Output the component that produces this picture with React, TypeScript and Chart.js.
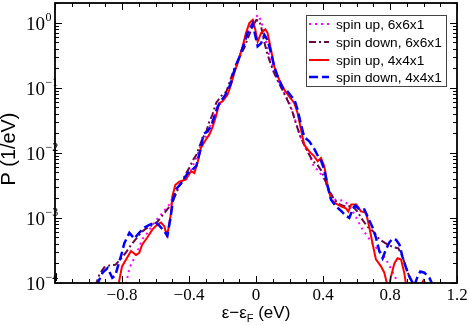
import React, { useEffect, useRef } from 'react';
import { Chart, registerables } from 'chart.js';

Chart.register(...registerables);

// ---- data (energy relative to Fermi level, eV ; probability 1/eV) ----
const xUp6 = [-0.79, -0.774, -0.756, -0.709, -0.679, -0.649, -0.607, -0.577, -0.547, -0.518, -0.488, -0.458, -0.422, -0.386, -0.356, -0.333, -0.303, -0.279, -0.249, -0.225, -0.201, -0.177, -0.153, -0.13, -0.106, -0.082, -0.058, -0.034, -0.010, 0.014, 0.032, 0.050, 0.067, 0.085, 0.109, 0.139, 0.169, 0.199, 0.229, 0.258, 0.288, 0.318, 0.348, 0.366, 0.39, 0.408, 0.438, 0.473, 0.515, 0.545, 0.575, 0.605, 0.629, 0.659, 0.688, 0.718, 0.748, 0.772, 0.796, 0.82, 0.844, 0.86];
const pUp6 = [8e-5, 1.0e-4, 1.7e-4, 3.0e-4, 4.7e-4, 5.9e-4, 8.5e-4, 1.05e-3, 1.3e-3, 1.6e-3, 2.3e-3, 3.1e-3, 4.2e-3, 5.5e-3, 8.5e-3, 0.012, 0.017, 0.024, 0.036, 0.051, 0.065, 0.083, 0.123, 0.175, 0.27, 0.41, 0.63, 0.89, 1.18, 1.31, 1.02, 0.69, 0.41, 0.27, 0.175, 0.115, 0.083, 0.059, 0.035, 0.020, 0.0128, 9.3e-3, 5.9e-3, 5.5e-3, 4.6e-3, 3.9e-3, 2.5e-3, 1.9e-3, 1.85e-3, 1.66e-3, 1.3e-3, 9.4e-4, 7.1e-4, 5.5e-4, 4.3e-4, 3.5e-4, 2.9e-4, 2.4e-4, 1.85e-4, 1.4e-4, 1.05e-4, 8e-5];

const xDown6 = [-0.959, -0.935, -0.906, -0.876, -0.840, -0.81, -0.774, -0.744, -0.715, -0.685, -0.655, -0.625, -0.589, -0.56, -0.53, -0.506, -0.482, -0.458, -0.428, -0.398, -0.374, -0.356, -0.338, -0.32, -0.297, -0.279, -0.261, -0.237, -0.207, -0.177, -0.153, -0.124, -0.094, -0.07, -0.046, -0.022, 0.002, 0.02, 0.032, 0.044, 0.061, 0.079, 0.103, 0.133, 0.163, 0.193, 0.217, 0.241, 0.264, 0.288, 0.318, 0.342, 0.366, 0.39, 0.414, 0.438, 0.467, 0.503, 0.539, 0.575, 0.605, 0.635, 0.664, 0.70, 0.736, 0.772, 0.814, 0.85, 0.873, 0.897, 0.915, 0.94];
const pDown6 = [9e-5, 1.35e-4, 1.74e-4, 1.86e-4, 1.9e-4, 2.3e-4, 3.0e-4, 3.9e-4, 4.8e-4, 6.0e-4, 6.9e-4, 7.6e-4, 8.7e-4, 1.08e-3, 1.35e-3, 1.6e-3, 2.2e-3, 3.1e-3, 4.3e-3, 5.9e-3, 7.9e-3, 9.3e-3, 0.0124, 0.0165, 0.021, 0.030, 0.038, 0.059, 0.075, 0.087, 0.132, 0.216, 0.31, 0.41, 0.60, 0.86, 1.1, 1.06, 0.83, 0.58, 0.38, 0.27, 0.18, 0.123, 0.087, 0.06, 0.043, 0.027, 0.018, 0.0133, 9.3e-3, 7.3e-3, 6.6e-3, 5.3e-3, 3.7e-3, 2.6e-3, 1.9e-3, 1.6e-3, 1.48e-3, 1.54e-3, 1.25e-3, 9.4e-4, 7.4e-4, 6.2e-4, 4.7e-4, 4.1e-4, 3.6e-4, 3.4e-4, 2.6e-4, 1.7e-4, 1.26e-4, 9e-5];

const xUp4 = [-0.83, -0.819, -0.80, -0.767, -0.746, -0.716, -0.697, -0.679, -0.649, -0.619, -0.589, -0.567, -0.547, -0.534, -0.524, -0.507, -0.50, -0.482, -0.458, -0.418, -0.388, -0.368, -0.349, -0.328, -0.299, -0.279, -0.259, -0.239, -0.219, -0.199, -0.170, -0.149, -0.130, -0.110, -0.080, -0.060, -0.040, -0.020, -0.005, 0.010, 0.030, 0.056, 0.069, 0.090, 0.109, 0.139, 0.169, 0.199, 0.229, 0.248, 0.269, 0.288, 0.318, 0.348, 0.368, 0.388, 0.408, 0.427, 0.448, 0.478, 0.507, 0.537, 0.551, 0.569, 0.599, 0.627, 0.657, 0.676, 0.696, 0.716, 0.746, 0.766, 0.79, 0.806, 0.826, 0.845, 0.866, 0.885, 0.90, 0.97, 1.0, 1.03];
const pUp4 = [8e-5, 1.0e-4, 1.8e-4, 2.5e-4, 3.1e-4, 2.7e-4, 2.9e-4, 3.9e-4, 5e-4, 6.6e-4, 7.9e-4, 8.5e-4, 7.4e-4, 5.5e-4, 6.6e-4, 1.2e-3, 2.1e-3, 3.2e-3, 3.6e-3, 3.9e-3, 5.2e-3, 4.9e-3, 7.1e-3, 1.2e-2, 1.6e-2, 1.9e-2, 2.5e-2, 3.6e-2, 5.8e-2, 6.2e-2, 7.8e-2, 0.111, 0.168, 0.238, 0.43, 0.69, 0.98, 1.1, 0.8, 0.51, 0.69, 0.79, 0.69, 0.38, 0.21, 0.132, 0.093, 0.073, 0.058, 0.041, 0.0225, 0.0133, 0.0105, 8.8e-3, 7.4e-3, 8.3e-3, 6.2e-3, 3.2e-3, 1.9e-3, 1.66e-3, 1.5e-3, 1.4e-3, 1.25e-3, 1.6e-3, 1.6e-3, 1.26e-3, 1.2e-3, 7.3e-4, 4.0e-4, 2.3e-4, 1.8e-4, 1.44e-4, 8e-5, 1.26e-4, 2.0e-4, 2.4e-4, 2.3e-4, 1.44e-4, 8e-5, 8e-5, 1.1e-4, 8e-5];

const xDown4 = [-0.953, -0.916, -0.886, -0.858, -0.840, -0.822, -0.804, -0.786, -0.756, -0.726, -0.703, -0.667, -0.637, -0.601, -0.577, -0.547, -0.529, -0.511, -0.494, -0.476, -0.446, -0.410, -0.380, -0.356, -0.344, -0.326, -0.314, -0.291, -0.267, -0.249, -0.229, -0.213, -0.189, -0.170, -0.149, -0.136, -0.118, -0.100, -0.070, -0.050, -0.030, -0.020, 0.010, 0.030, 0.050, 0.069, 0.090, 0.109, 0.129, 0.159, 0.189, 0.219, 0.229, 0.248, 0.269, 0.288, 0.318, 0.348, 0.368, 0.388, 0.408, 0.427, 0.448, 0.478, 0.507, 0.537, 0.557, 0.577, 0.593, 0.617, 0.647, 0.671, 0.696, 0.716, 0.736, 0.756, 0.776, 0.796, 0.816, 0.836, 0.856, 0.875, 0.896, 0.915, 0.945, 0.965, 0.981, 1.005, 1.035, 1.058];
const pDown4 = [9e-5, 1.44e-4, 1.7e-4, 1.2e-4, 1.3e-4, 1.9e-4, 2.7e-4, 4.1e-4, 5.9e-4, 4.8e-4, 5.7e-4, 7.1e-4, 7.8e-4, 8.6e-4, 7.6e-4, 6.2e-4, 5.3e-4, 9.8e-4, 2.0e-3, 2.8e-3, 3.4e-3, 4.8e-3, 5.5e-3, 6.3e-3, 8.4e-3, 0.0129, 0.0196, 0.021, 0.026, 0.036, 0.051, 0.061, 0.073, 0.089, 0.119, 0.163, 0.224, 0.29, 0.48, 0.69, 0.87, 0.97, 0.43, 0.48, 0.65, 0.54, 0.34, 0.21, 0.148, 0.099, 0.087, 0.069, 0.066, 0.046, 0.027, 0.0174, 0.015, 0.0115, 9.1e-3, 7.6e-3, 5.5e-3, 3.1e-3, 1.9e-3, 1.5e-3, 1.29e-3, 1.08e-3, 1.0e-3, 1.35e-3, 1.55e-3, 1.35e-3, 1.35e-3, 9.8e-4, 7.1e-4, 5.0e-4, 3.1e-4, 2.4e-4, 3.3e-4, 4.2e-4, 4.8e-4, 4.6e-4, 3.9e-4, 2.5e-4, 1.7e-4, 1.27e-4, 9e-5, 1.27e-4, 1.5e-4, 1.44e-4, 1.2e-4, 9e-5];

const seriesLabels = ['spin up, 6x6x1', 'spin down, 6x6x1', 'spin up, 4x4x1', 'spin down, 4x4x1'];
const xTickValues = [-0.8, -0.4, 0, 0.4, 0.8, 1.2];
const xTickLabels = ['\u22120.8', '\u22120.4', '0', '0.4', '0.8', '1.2'];
const yDecadeExponents = [0, -1, -2, -3, -4];
const X_MIN = -1.2, X_MAX = 1.2, Y_MIN = 1e-4, Y_MAX = 2;

const toPts = (xs: number[], ps: number[]) => xs.map((x, i) => ({ x, y: ps[i] }));

const framePlugin = {
  id: 'gracelike',
  afterDraw(chart: any) {
    const ctx = chart.ctx as CanvasRenderingContext2D;
    const a = chart.chartArea;
    const xs = chart.scales.x;
    const ys = chart.scales.y;
    ctx.save();
    ctx.setLineDash([]);
    ctx.strokeStyle = '#000';
    ctx.lineWidth = 1.8;
    ctx.strokeRect(a.left, a.top, a.right - a.left, a.bottom - a.top);
    ctx.lineWidth = 1;
    // x ticks (inward, both sides)
    for (let i = -12; i <= 12; i++) {
      const px = Math.round(xs.getPixelForValue(i / 10)) + 0.5;
      const len = i % 4 === 0 ? 7 : 4;
      ctx.beginPath();
      ctx.moveTo(px, a.bottom); ctx.lineTo(px, a.bottom - len);
      ctx.moveTo(px, a.top); ctx.lineTo(px, a.top + len);
      ctx.stroke();
    }
    // y ticks
    for (let e = -4; e <= 0; e++) {
      for (let k = 1; k <= 9; k++) {
        const v = k * Math.pow(10, e);
        if (v > Y_MAX) continue;
        const py = Math.round(ys.getPixelForValue(v)) + 0.5;
        const len = k === 1 ? 7 : 4;
        ctx.beginPath();
        ctx.moveTo(a.left, py); ctx.lineTo(a.left + len, py);
        ctx.moveTo(a.right, py); ctx.lineTo(a.right - len, py);
        ctx.stroke();
      }
    }
    // x tick labels
    ctx.fillStyle = '#000';
    ctx.font = '17px "Liberation Serif"';
    ctx.textAlign = 'center';
    ctx.textBaseline = 'alphabetic';
    xTickValues.forEach((v, i) => {
      ctx.fillText(xTickLabels[i], xs.getPixelForValue(v), a.bottom + 17);
    });
    // y tick labels 10^n
    yDecadeExponents.forEach((e) => {
      const py = ys.getPixelForValue(Math.pow(10, e));
      ctx.font = '19px "Liberation Serif"';
      ctx.textAlign = 'right';
      ctx.fillText('10', 45, py + 7);
      ctx.font = '12px "Liberation Serif"';
      ctx.textAlign = 'left';
      ctx.fillText(e === 0 ? '0' : '\u2212' + Math.abs(e), 45.5, py - 2);
    });
    // axis titles
    ctx.font = '18px "Liberation Sans"';
    const tw = ctx.measureText('P (1/eV)').width;
    const tSize = Math.max(15, Math.min(21, 18 * 73 / tw));
    ctx.font = tSize.toFixed(1) + 'px "Liberation Sans"';
    ctx.save();
    ctx.translate(15, (a.top + a.bottom) / 2 + 6);
    ctx.rotate(-Math.PI / 2);
    ctx.textAlign = 'center';
    ctx.fillText('P (1/eV)', 0, 0);
    ctx.restore();
    const p1 = '\u03b5\u2212\u03b5', p2 = 'F', p3 = ' (eV)';
    ctx.font = '17px "Liberation Sans"';
    const w1 = ctx.measureText(p1).width, w3 = ctx.measureText(p3).width;
    ctx.font = '11px "Liberation Sans"';
    const w2 = ctx.measureText(p2).width;
    let sx = (a.left + a.right) / 2 - (w1 + w2 + w3) / 2;
    const by = 318;
    ctx.textAlign = 'left';
    ctx.font = '17px "Liberation Sans"';
    ctx.fillText(p1, sx, by); sx += w1;
    ctx.font = '11px "Liberation Sans"';
    ctx.fillText(p2, sx, by + 4); sx += w2;
    ctx.font = '17px "Liberation Sans"';
    ctx.fillText(p3, sx, by);
    // legend
    const lx = 306.5, ly = 15.5, lw = 140, lh = 71;
    ctx.fillStyle = '#fff';
    ctx.fillRect(lx, ly, lw, lh);
    ctx.strokeStyle = '#444';
    ctx.lineWidth = 1;
    ctx.strokeRect(lx, ly, lw, lh);
    ctx.font = '14px "Liberation Sans"';
    const lwMeasured = ctx.measureText(seriesLabels[1]).width;
    const lSize = Math.max(12, Math.min(15, 14 * 106 / lwMeasured));
    const rows = [24, 42, 60, 77];
    chart.data.datasets.forEach((ds: any, i: number) => {
      const y = rows[i];
      ctx.strokeStyle = ds.borderColor;
      ctx.lineWidth = ds.borderWidth;
      ctx.setLineDash(ds.borderDash || []);
      ctx.beginPath();
      ctx.moveTo(309, y); ctx.lineTo(329, y);
      ctx.stroke();
      ctx.setLineDash([]);
      ctx.fillStyle = '#000';
      ctx.font = lSize.toFixed(1) + 'px "Liberation Sans"';
      ctx.textBaseline = 'middle';
      ctx.fillText(ds.label, 336, y + 1);
      ctx.textBaseline = 'alphabetic';
    });
    ctx.restore();
  },
};

export default function App() {
  const ref = useRef<HTMLCanvasElement>(null);
  useEffect(() => {
    if (!ref.current) return;
    const chart = new Chart(ref.current, {
      type: 'line',
      data: {
        datasets: [
          { label: seriesLabels[0], data: toPts(xUp6, pUp6), borderColor: '#ff00ff', borderWidth: 2, borderDash: [2, 4], order: 3 },
          { label: seriesLabels[1], data: toPts(xDown6, pDown6), borderColor: '#670748', borderWidth: 2, borderDash: [7, 3, 2, 3], order: 2 },
          { label: seriesLabels[2], data: toPts(xUp4, pUp4), borderColor: '#ff0000', borderWidth: 2, order: 1 },
          { label: seriesLabels[3], data: toPts(xDown4, pDown4), borderColor: '#0000ff', borderWidth: 2.5, borderDash: [9, 4], order: 0 },
        ].map((d) => ({ ...d, pointRadius: 0, tension: 0, fill: false, clip: 0 })) as any,
      },
      options: {
        animation: false,
        responsive: false,
        layout: { padding: { top: 3, right: 12, left: 0, bottom: 0 } },
        plugins: { legend: { display: false }, tooltip: { enabled: false } },
        scales: {
          x: {
            type: 'linear', min: X_MIN, max: X_MAX,
            ticks: { display: false }, grid: { display: false }, border: { display: false },
            afterFit: (s: any) => { s.height = 42; },
          },
          y: {
            type: 'logarithmic', min: Y_MIN, max: Y_MAX,
            ticks: { display: false }, grid: { display: false }, border: { display: false },
            afterFit: (s: any) => { s.width = 55; },
          },
        },
      },
      plugins: [framePlugin],
    });
    return () => chart.destroy();
  }, []);
  return (
    <div style={{ position: 'absolute', left: 0, top: 0, width: 469, height: 325, background: '#fff' }}>
      <canvas ref={ref} width={469} height={325} style={{ display: 'block' }} />
    </div>
  );
}
